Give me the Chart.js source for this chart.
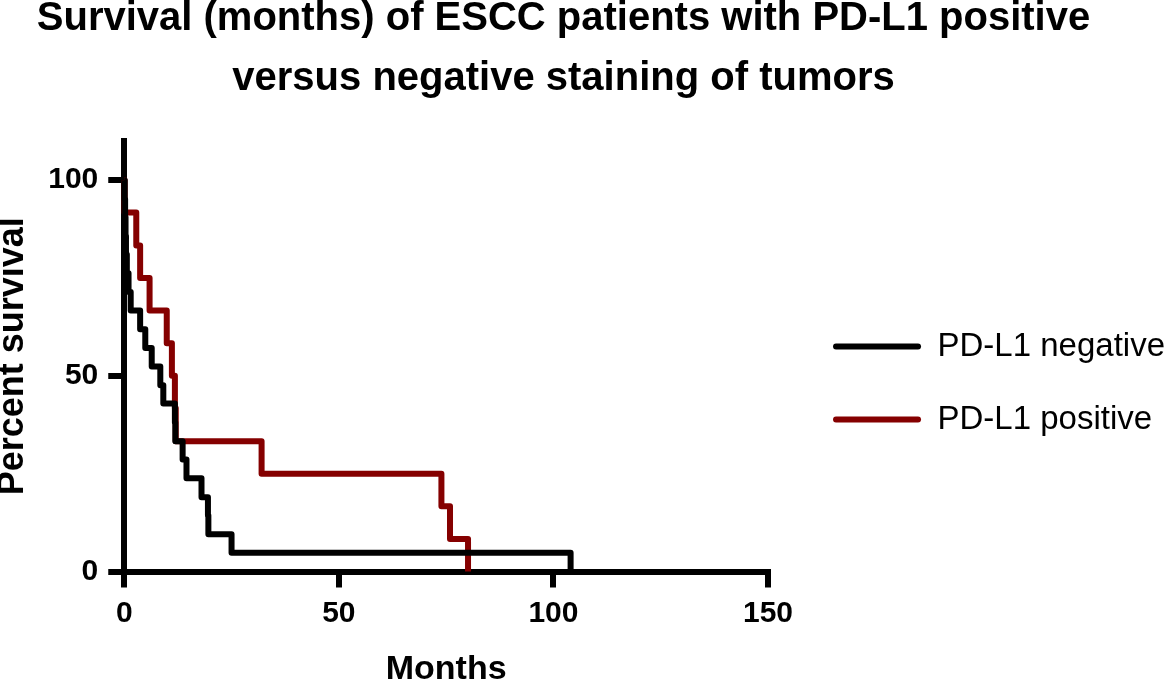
<!DOCTYPE html>
<html>
<head>
<meta charset="utf-8">
<title>Survival of ESCC patients by PD-L1 staining</title>
<script src="https://cdn.jsdelivr.net/npm/chart.js@4.4.1/dist/chart.umd.min.js"></script>
<style>
  html, body { margin: 0; padding: 0; background: #fff; }
  #wrap { width: 1175px; height: 682px; position: relative; }
</style>
</head>
<body>
<div id="wrap"><canvas id="myChart"></canvas></div>
<script>

// Kaplan-Meier steps (months, percent survival)
const negMonths   = [0, 0.1, 0.2, 0.3, 0.4, 0.6, 1.0, 1.5, 3.7, 4.9, 6.4, 8.4, 9.1, 11.8, 11.9, 13.6, 14.5, 18.0, 19.5, 19.6, 25.0, 104];
const negSurvival = [100, 95.2, 90.5, 85.7, 81.0, 76.2, 71.4, 66.7, 61.9, 57.1, 52.4, 47.6, 42.9, 38.1, 33.3, 28.6, 23.8, 19.0, 14.3, 9.5, 4.8, 0];

const posMonths   = [0, 0.1, 2.8, 3.7, 5.9, 9.9, 11.1, 11.8, 12.0, 32.0, 73.9, 75.9, 80.1];
const posSurvival = [100, 91.7, 83.3, 75.0, 66.7, 58.3, 50.0, 41.7, 33.3, 25.0, 16.7, 8.3, 0];

const seriesNames = ['PD-L1 negative', 'PD-L1 positive'];
const xTicks = [0, 50, 100, 150];
const yTicks = [0, 50, 100];

const toPoints = (xs, ys) => xs.map((x, i) => ({ x: x, y: ys[i] }));

Chart.defaults.font.family = "'Liberation Sans', Arial, Helvetica, sans-serif";
Chart.defaults.color = '#000';

const data = {
    datasets: [{
        label: seriesNames[0],
        data: toPoints(negMonths, negSurvival),
        borderColor: '#000000',
        backgroundColor: '#000000',
        borderWidth: 6,
        stepped: true,
        pointRadius: 0,
        borderJoinStyle: 'round',
        clip: false
    }, {
        label: seriesNames[1],
        data: toPoints(posMonths, posSurvival),
        borderColor: '#850000',
        backgroundColor: '#850000',
        borderWidth: 6,
        stepped: true,
        pointRadius: 0,
        borderJoinStyle: 'round',
        clip: false
    }]
};

const axisGrid = {
    drawOnChartArea: false,
    tickLength: 16,
    lineWidth: 6,
    color: '#000'
};

const config = {
    type: 'line',
    data: data,
    options: {
        responsive: true,
        maintainAspectRatio: false,
        animation: false,
        layout: {
            padding: { left: -48, right: 0, top: 0, bottom: 0 }
        },
        scales: {
            x: {
                type: 'linear',
                position: 'bottom',
                min: xTicks[0],
                max: xTicks[xTicks.length - 1],
                afterBuildTicks: s => { s.ticks = xTicks.map(v => ({ value: v })); },
                ticks: {
                    font: { size: 30, weight: 'bold' },
                    color: '#000',
                    padding: 8
                },
                grid: axisGrid,
                border: { width: 6, color: '#000' },
                title: {
                    display: true,
                    text: 'Months',
                    color: '#000',
                    font: { size: 34, weight: 'bold', lineHeight: 0.75 },
                    padding: { top: 17, bottom: 0 }
                }
            },
            y: {
                min: 0,
                max: 110,
                afterBuildTicks: s => { s.ticks = yTicks.map(v => ({ value: v })); },
                ticks: {
                    font: { size: 30, weight: 'bold' },
                    color: '#000',
                    padding: 10
                },
                grid: axisGrid,
                border: { width: 6, color: '#000' },
                title: {
                    display: true,
                    text: 'Percent survival',
                    color: '#000',
                    font: { size: 36, weight: 'bold', lineHeight: 0.7 },
                    padding: { top: 48, bottom: 13 }
                }
            },
            // empty axis, only keeps a gap between the plot and the legend
            gap: {
                position: 'right',
                display: true,
                grid: { display: false },
                border: { display: false },
                ticks: { display: false },
                afterFit: s => { s.width = 25; }
            }
        },
        plugins: {
            title: {
                display: true,
                text: 'Survival (months) of ESCC patients with PD-L1 positive',
                color: '#000',
                font: { size: 40, weight: 'bold', lineHeight: 0.8 },
                padding: { top: 3, bottom: 28 }
            },
            subtitle: {
                display: true,
                text: 'versus negative staining of tumors',
                color: '#000',
                font: { size: 40, weight: 'bold', lineHeight: 0.8 },
                padding: { top: 0, bottom: 46 }
            },
            legend: {
                position: 'right',
                align: 'center',
                maxWidth: 420,
                title: {
                    display: true,
                    text: '',
                    font: { size: 84, lineHeight: 1 },
                    padding: 0
                },
                labels: {
                    boxWidth: 88,
                    boxHeight: 6,
                    padding: 40,
                    useBorderRadius: true,
                    borderRadius: 3,
                    color: '#000',
                    font: { size: 33 },
                    generateLabels: chart =>
                        Chart.defaults.plugins.legend.labels.generateLabels(chart)
                            .map(item => Object.assign(item, { fillStyle: item.strokeStyle, lineWidth: 0 }))
                }
            },
            tooltip: { enabled: false }
        }
    }
};

const myChart = new Chart(
    document.getElementById('myChart'),
    config
);
</script>
</body>
</html>
